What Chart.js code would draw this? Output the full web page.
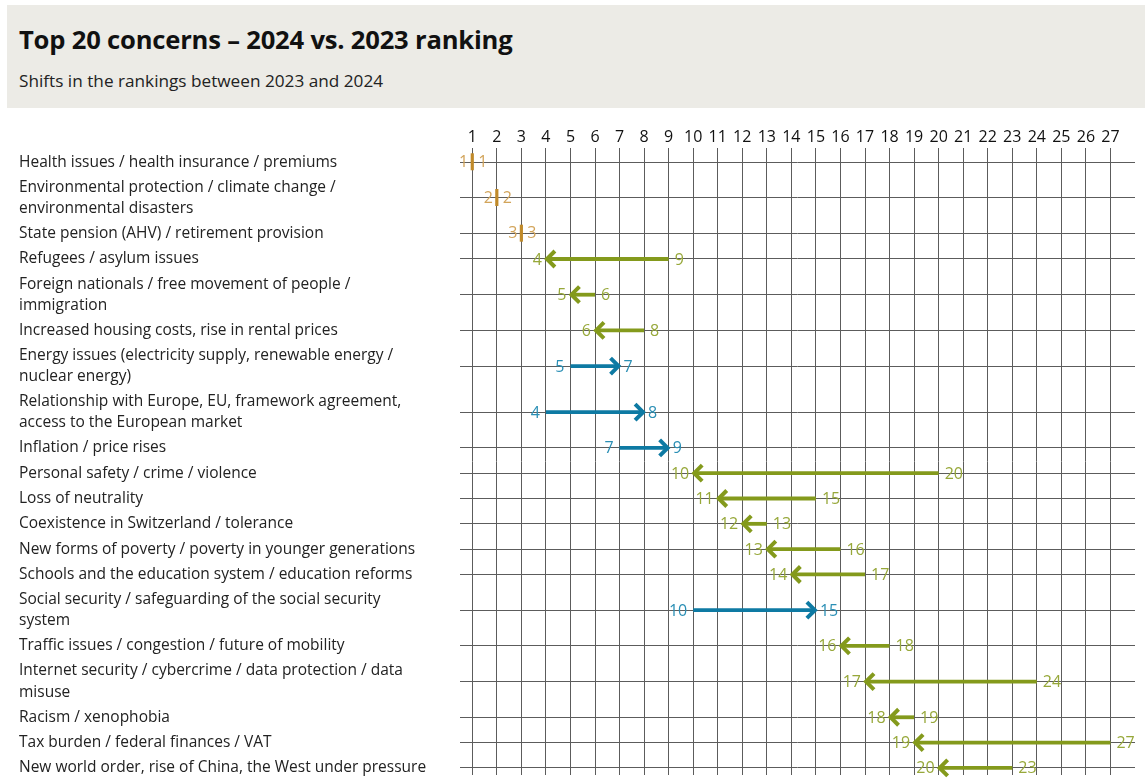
<!DOCTYPE html>
<html>
<head>
<meta charset="utf-8">
<title>Top 20 concerns</title>
<script src="https://cdn.jsdelivr.net/npm/chart.js@4.4.1/dist/chart.umd.min.js"></script>
<style>
  body { margin: 0; background: #fff; font-family: 'Open Sans', sans-serif; color: #111; }
  #head { position: absolute; left: 7px; top: 5px; width: 1138px; height: 103px; background: #ecebe6; }
  #head h1 { position: absolute; left: 12px; top: 17px; margin: 0; font-size: 25.6px; font-weight: 700; letter-spacing: -0.2px; }
  #head p { position: absolute; left: 12px; top: 64px; margin: 0; font-size: 17.2px; color: #222; }
  #wrap { position: absolute; left: 0; top: 110px; width: 1145px; height: 673px; }
</style>
</head>
<body>
<div id="head">
  <h1>Top 20 concerns – 2024 vs. 2023 ranking</h1>
  <p>Shifts in the rankings between 2023 and 2024</p>
</div>
<div id="wrap"><canvas id="chart"></canvas></div>
<script>
(function () {
  'use strict';

  var categories = [
    ['Health issues / health insurance / premiums'],
    ['Environmental protection / climate change /', 'environmental disasters'],
    ['State pension (AHV) / retirement provision'],
    ['Refugees / asylum issues'],
    ['Foreign nationals / free movement of people /', 'immigration'],
    ['Increased housing costs, rise in rental prices'],
    ['Energy issues (electricity supply, renewable energy /', 'nuclear energy)'],
    ['Relationship with Europe, EU, framework agreement,', 'access to the European market'],
    ['Inflation / price rises'],
    ['Personal safety / crime / violence'],
    ['Loss of neutrality'],
    ['Coexistence in Switzerland / tolerance'],
    ['New forms of poverty / poverty in younger generations'],
    ['Schools and the education system / education reforms'],
    ['Social security / safeguarding of the social security', 'system'],
    ['Traffic issues / congestion / future of mobility'],
    ['Internet security / cybercrime / data protection / data', 'misuse'],
    ['Racism / xenophobia'],
    ['Tax burden / federal finances / VAT'],
    ['New world order, rise of China, the West under pressure']
  ];
  var rank2024 = [1, 2, 3, 4, 5, 6, 7, 8, 9, 10, 11, 12, 13, 14, 15, 16, 17, 18, 19, 20];
  var rank2023 = [1, 2, 3, 9, 6, 8, 5, 4, 7, 20, 15, 13, 16, 17, 10, 18, 24, 19, 27, 23];
  var rankTicks = [1, 2, 3, 4, 5, 6, 7, 8, 9, 10, 11, 12, 13, 14, 15, 16, 17, 18, 19, 20, 21, 22, 23, 24, 25, 26, 27];

  var GREEN = '#849a1c', GREEN_TXT = '#97a83a';
  var BLUE = '#0e7aa3', BLUE_TXT = '#2a8fb5';
  var GOLD = '#c08a2a', GOLD_TXT = '#d2a45a';
  var FONT = "'Open Sans', sans-serif";

  // two-line labels get a taller row
  var rowPos = [];
  var acc = 0;
  categories.forEach(function (lines) {
    var h = lines.length > 1 ? 1.82 : 1;
    rowPos.push(acc + h / 2);
    acc += h;
  });

  var datasets = categories.map(function (lines, i) {
    var from = rank2023[i], to = rank2024[i];
    var color = to < from ? GREEN : (to > from ? BLUE : GOLD);
    var txt = to < from ? GREEN_TXT : (to > from ? BLUE_TXT : GOLD_TXT);
    return {
      label: lines.join(' '),
      data: [{ x: from, y: rowPos[i] }, { x: to, y: rowPos[i] }],
      showLine: true,
      borderColor: color,
      backgroundColor: color,
      borderWidth: 3.8,
      pointRadius: 0,
      textColor: txt
    };
  });

  var arrows = {
    id: 'arrows',
    afterDatasetsDraw: function (chart) {
      var c = chart.ctx;
      chart.data.datasets.forEach(function (ds, i) {
        var pts = chart.getDatasetMeta(i).data;
        var tail = pts[0], tip = pts[1];
        var dir = Math.sign(tip.x - tail.x);
        c.save();
        c.strokeStyle = ds.borderColor;
        c.lineWidth = 4;
        c.font = '16px ' + FONT;
        c.fillStyle = ds.textColor;
        c.textBaseline = 'middle';
        if (dir !== 0) {
          c.lineCap = 'butt';
          c.lineJoin = 'miter';
          c.beginPath();
          c.moveTo(tip.x - dir * 9, tip.y - 8);
          c.lineTo(tip.x - dir * 1, tip.y);
          c.lineTo(tip.x - dir * 9, tip.y + 8);
          c.stroke();
          c.textAlign = dir < 0 ? 'right' : 'left';
          c.fillText(String(rank2024[i]), tip.x + dir * 4, tip.y + 1);
          c.textAlign = dir < 0 ? 'left' : 'right';
          c.fillText(String(rank2023[i]), tail.x - dir * 6, tail.y + 1);
        } else {
          c.lineWidth = 3.2;
          c.beginPath();
          c.moveTo(tip.x, tip.y - 9);
          c.lineTo(tip.x, tip.y + 8);
          c.stroke();
          c.textAlign = 'right';
          c.fillText(String(rank2023[i]), tip.x - 4, tip.y);
          c.textAlign = 'left';
          c.fillText(String(rank2024[i]), tip.x + 6, tip.y);
        }
        c.restore();
      });
    }
  };

  var ctx = document.getElementById('chart').getContext('2d');

  new Chart(ctx, {
    type: 'scatter',
    data: { datasets: datasets },
    plugins: [arrows],
    options: {
      responsive: true,
      maintainAspectRatio: false,
      animation: false,
      layout: { padding: { left: 19, right: 10, top: 0, bottom: 8 } },
      plugins: {
        legend: { display: false },
        tooltip: { enabled: false }
      },
      scales: {
        x: {
          type: 'linear',
          position: 'top',
          min: 0.5,
          max: 28,
          afterBuildTicks: function (scale) {
            scale.ticks = rankTicks.map(function (v) { return { value: v }; });
          },
          afterFit: function (scale) { scale.height = 38; },
          border: { display: false },
          grid: { color: '#5c5c5c', lineWidth: 1, drawTicks: false },
          ticks: {
            padding: 1,
            color: '#111',
            font: { family: FONT, size: 16 },
            maxRotation: 0,
            autoSkip: false
          }
        },
        y: {
          type: 'linear',
          reverse: true,
          min: -0.064,
          max: 24.7,
          afterBuildTicks: function (scale) {
            scale.ticks = rowPos.map(function (v) { return { value: v }; });
          },
          afterFit: function (scale) {
            scale.width = 441;
            scale.paddingTop = 0;
            scale.paddingBottom = 0;
          },
          border: { display: false },
          grid: { color: '#5c5c5c', lineWidth: 1, drawTicks: false },
          ticks: {
            crossAlign: 'far',
            color: '#222',
            autoSkip: false,
            font: { family: FONT, size: 15.5, lineHeight: 1.36 },
            callback: function (value, index) { return categories[index]; }
          }
        }
      }
    }
  });
}());
</script>
</body>
</html>
